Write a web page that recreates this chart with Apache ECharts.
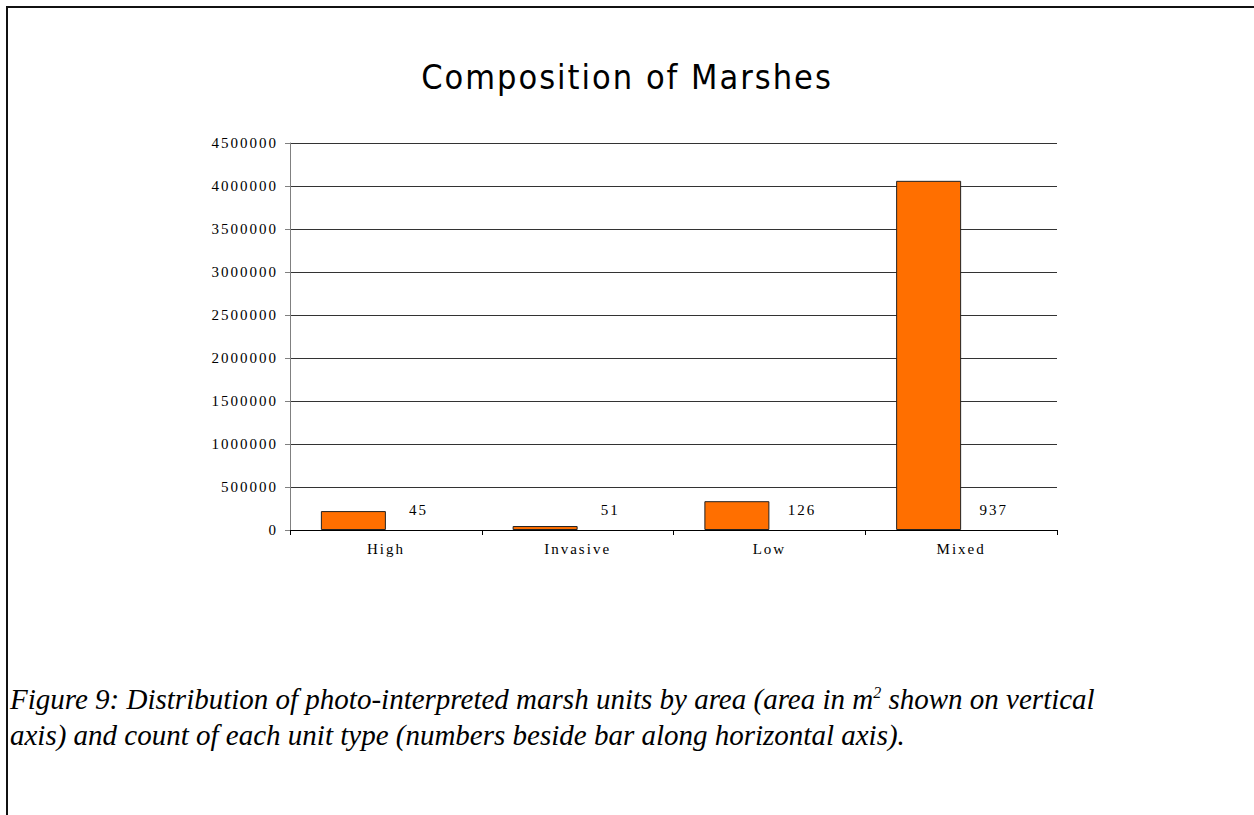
<!DOCTYPE html>
<html>
<head>
<meta charset="utf-8">
<script src="https://cdn.jsdelivr.net/npm/echarts@6/dist/echarts.min.js"></script>
<style>
  html, body { margin: 0; padding: 0; background: #fff; }
  #page { position: relative; width: 1254px; height: 815px; overflow: hidden; }
  #chart { position: absolute; left: 0; top: 0; width: 1254px; height: 815px; }
  /* the original chart uses widely spaced glyphs */
  #chart text { letter-spacing: 2px; }
  #frameTop { position: absolute; left: 7px; top: 6px; width: 1247px; height: 2px; background: #111; }
  #frameLeft { position: absolute; left: 6px; top: 6px; width: 2px; height: 809px; background: #111; }
  #caption {
    position: absolute; left: 10px; top: 681px;
    font-family: 'Liberation Serif', 'DejaVu Serif', serif; font-style: italic;
    font-size: 29px; line-height: 36px; color: #000;
  }
  #caption sup { font-size: 16px; line-height: 0; vertical-align: 11px; }
</style>
</head>
<body>
<div id="page">
  <div id="chart"></div>
  <div id="frameTop"></div>
  <div id="frameLeft"></div>
  <div id="caption">Figure 9: Distribution of photo-interpreted marsh units by area (area in m<sup>2</sup> shown on vertical<br>axis) and count of each unit type (numbers beside bar along horizontal axis).</div>
</div>
<script>
const categories = ['High', 'Invasive', 'Low', 'Mixed'];
const areaValues = [220000, 46000, 335000, 4060000];
const unitCounts = [45, 51, 126, 937];

const chart = echarts.init(document.getElementById('chart'), null, { renderer: 'svg' });

const serif = "'Liberation Serif', 'DejaVu Serif', serif";

chart.setOption({
  animation: false,
  title: {
    text: 'Composition of Marshes',
    left: 'center',
    top: 55,
    textStyle: {
      fontFamily: "'DejaVu Sans Condensed', 'DejaVu Sans', sans-serif",
      fontSize: 34,
      fontWeight: 'normal',
      color: '#000'
    }
  },
  grid: { left: 290, right: 197, top: 143, bottom: 285, outerBoundsMode: 'none' },
  xAxis: {
    type: 'category',
    data: categories,
    axisLine: { lineStyle: { color: '#000', width: 1 } },
    axisTick: { show: true, length: 5, lineStyle: { color: '#000' } },
    axisLabel: { color: '#000', fontFamily: serif, fontSize: 15, margin: 11 }
  },
  yAxis: {
    type: 'value',
    min: 0,
    max: 4500000,
    interval: 500000,
    axisLine: { show: true, lineStyle: { color: '#808080', width: 1 } },
    axisTick: { show: true, length: 5, lineStyle: { color: '#808080' } },
    axisLabel: { color: '#000', fontFamily: serif, fontSize: 15, margin: 12, formatter: (v) => String(v) },
    splitLine: { lineStyle: { color: '#333', width: 1 } }
  },
  series: [
    {
      name: 'Area',
      type: 'bar',
      data: areaValues,
      barWidth: 65,
      barGap: '0%',
      itemStyle: { color: '#FF6F00', borderColor: '#222', borderWidth: 1 }
    },
    {
      name: 'Count',
      type: 'bar',
      data: unitCounts,
      barWidth: 65,
      itemStyle: { color: 'rgba(0,0,0,0)', borderWidth: 0 },
      label: {
        show: true,
        position: 'top',
        distance: 12,
        color: '#000',
        fontFamily: serif,
        fontSize: 15
      }
    }
  ]
});
</script>
</body>
</html>
